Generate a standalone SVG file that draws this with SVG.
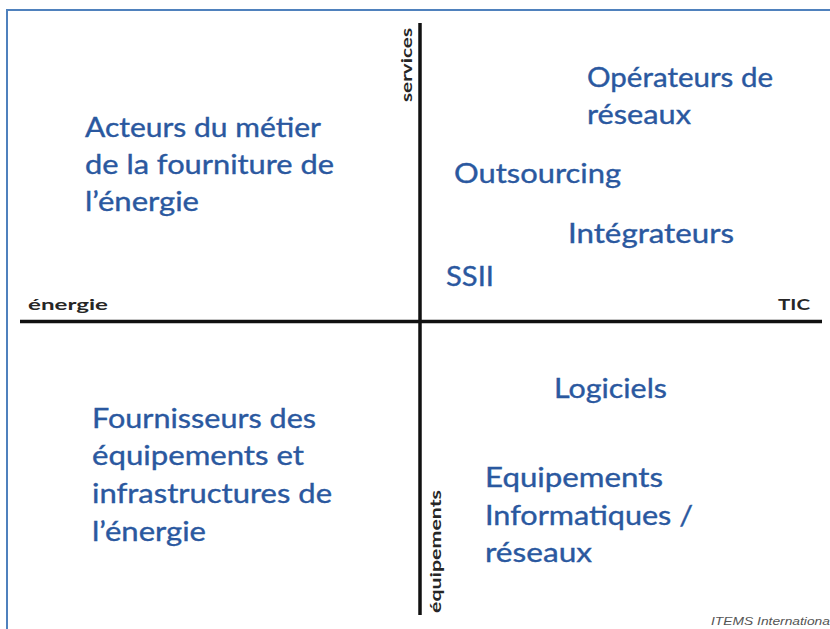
<svg xmlns="http://www.w3.org/2000/svg" width="830" height="629" viewBox="0 0 830 629">
  <style>
    .lbl { font-family: Lato, "Open Sans", "Liberation Sans", sans-serif; font-size: 26px; fill: #2a589f; stroke: #2a589f; stroke-width: 0.35px; }
    .axis-lbl { font-family: Lato, "Open Sans", "Liberation Sans", sans-serif; font-size: 15.5px; font-weight: bold; fill: #262626; }
    .axis { stroke: #111; stroke-width: 3.5; fill: none; }
    .frame { stroke: #4f81bd; stroke-width: 2; fill: none; }
    .credit { font-family: "Liberation Sans", Arial, sans-serif; font-size: 11px; font-style: italic; fill: #555; }
  </style>

  <rect width="830" height="629" fill="#fff"/>
  <!-- slide frame (top and left edges) -->
  <path class="frame" d="M7,629 V10 H830"/>

  <!-- axes -->
  <g id="axes">
    <line class="axis" x1="420" y1="23" x2="420" y2="615"/>
    <line class="axis" x1="20" y1="321.5" x2="822" y2="321.5"/>
  </g>

  <!-- axis labels -->
  <g id="axis-services">
    <text class="axis-lbl" transform="translate(412,102) rotate(-90)" textLength="74" lengthAdjust="spacingAndGlyphs">services</text>
  </g>
  <g id="axis-energie">
    <text class="axis-lbl" x="28" y="310" textLength="80" lengthAdjust="spacingAndGlyphs">énergie</text>
  </g>
  <g id="axis-tic">
    <text class="axis-lbl" x="778" y="310" textLength="32" lengthAdjust="spacingAndGlyphs">TIC</text>
  </g>
  <g id="axis-equipements">
    <text class="axis-lbl" transform="translate(441,613) rotate(-90)" textLength="123" lengthAdjust="spacingAndGlyphs">équipements</text>
  </g>

  <!-- quadrant: energy / services -->
  <g id="acteurs-energie">
    <text class="lbl" x="85" y="137" textLength="236" lengthAdjust="spacingAndGlyphs">Acteurs du métier</text>
    <text class="lbl" x="85" y="174" textLength="249" lengthAdjust="spacingAndGlyphs">de la fourniture de</text>
    <text class="lbl" x="85" y="211" textLength="114" lengthAdjust="spacingAndGlyphs">l’énergie</text>
  </g>

  <!-- quadrant: ICT / services -->
  <g id="operateurs-reseaux">
    <text class="lbl" x="587" y="87" textLength="186" lengthAdjust="spacingAndGlyphs">Opérateurs de</text>
    <text class="lbl" x="587" y="124" textLength="104" lengthAdjust="spacingAndGlyphs">réseaux</text>
  </g>
  <g id="outsourcing">
    <text class="lbl" x="454" y="183" textLength="167" lengthAdjust="spacingAndGlyphs">Outsourcing</text>
  </g>
  <g id="integrateurs">
    <text class="lbl" x="568" y="243" textLength="166" lengthAdjust="spacingAndGlyphs">Intégrateurs</text>
  </g>
  <g id="ssii">
    <text class="lbl" x="446" y="286" textLength="48" lengthAdjust="spacingAndGlyphs">SSII</text>
  </g>

  <!-- quadrant: energy / equipment -->
  <g id="fournisseurs-energie">
    <text class="lbl" x="92" y="428" textLength="224" lengthAdjust="spacingAndGlyphs">Fournisseurs des</text>
    <text class="lbl" x="92" y="465" textLength="212" lengthAdjust="spacingAndGlyphs">équipements et</text>
    <text class="lbl" x="92" y="503" textLength="240" lengthAdjust="spacingAndGlyphs">infrastructures de</text>
    <text class="lbl" x="92" y="541" textLength="114" lengthAdjust="spacingAndGlyphs">l’énergie</text>
  </g>

  <!-- quadrant: ICT / equipment -->
  <g id="logiciels">
    <text class="lbl" x="554" y="398" textLength="113" lengthAdjust="spacingAndGlyphs">Logiciels</text>
  </g>
  <g id="equipements-informatiques">
    <text class="lbl" x="485" y="487" textLength="178" lengthAdjust="spacingAndGlyphs">Equipements</text>
    <text class="lbl" x="485" y="525" textLength="208" lengthAdjust="spacingAndGlyphs">Informatiques /</text>
    <text class="lbl" x="485" y="562" textLength="107" lengthAdjust="spacingAndGlyphs">réseaux</text>
  </g>

  <!-- source credit -->
  <text class="credit" x="711" y="625" textLength="119" lengthAdjust="spacingAndGlyphs">ITEMS Internationa</text>
</svg>
